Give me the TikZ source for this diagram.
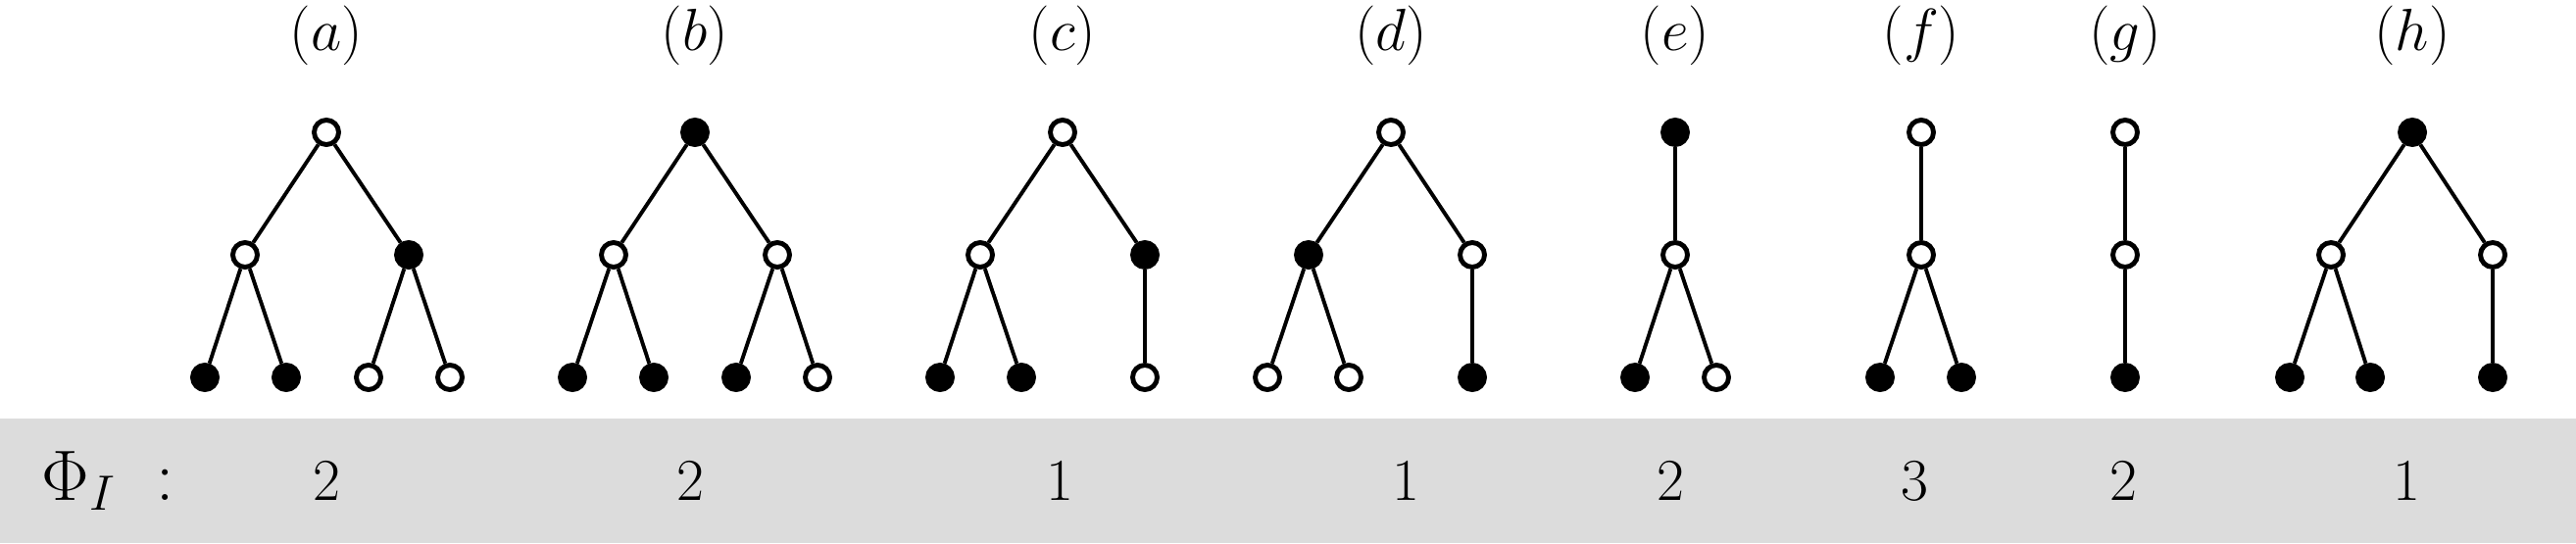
\documentclass[tikz,border=0pt]{standalone}
\definecolor{bandgray}{RGB}{220,220,220}

\begin{document}
\begin{tikzpicture}[font=\fontsize{17.5}{21}\selectfont, wn/.style={circle, draw, line width=1.4pt, fill=white, inner sep=0pt, minimum size=2.5mm}, bn/.style={wn, fill=black}, edge/.style={line width=1.1pt}]
\useasboundingbox (0,0) rectangle (26.28,5.54);
\fill[bandgray] (0,0) rectangle (26.28,1.27);
% (a)
\node[wn] (a0) at (3.33,4.19) {}; \node[wn] (a1) at (2.50,2.94) {}; \node[bn] (a2) at (4.17,2.94) {};
\node[bn] (a3) at (2.09,1.69) {}; \node[bn] (a4) at (2.92,1.69) {}; \node[wn] (a5) at (3.76,1.69) {}; \node[wn] (a6) at (4.59,1.69) {};
\draw[edge] (a0) -- (a1) (a0) -- (a2) (a1) -- (a3) (a1) -- (a4) (a2) -- (a5) (a2) -- (a6);
% (b)
\node[bn] (b0) at (7.09,4.19) {}; \node[wn] (b1) at (6.26,2.94) {}; \node[wn] (b2) at (7.93,2.94) {};
\node[bn] (b3) at (5.84,1.69) {}; \node[bn] (b4) at (6.67,1.69) {}; \node[bn] (b5) at (7.51,1.69) {}; \node[wn] (b6) at (8.34,1.69) {};
\draw[edge] (b0) -- (b1) (b0) -- (b2) (b1) -- (b3) (b1) -- (b4) (b2) -- (b5) (b2) -- (b6);
% (c)
\node[wn] (c0) at (10.84,4.19) {}; \node[wn] (c1) at (10.00,2.94) {}; \node[bn] (c2) at (11.68,2.94) {};
\node[bn] (c3) at (9.59,1.69) {}; \node[bn] (c4) at (10.42,1.69) {}; \node[wn] (c5) at (11.68,1.69) {};
\draw[edge] (c0) -- (c1) (c0) -- (c2) (c1) -- (c3) (c1) -- (c4) (c2) -- (c5);
% (d)
\node[wn] (d0) at (14.19,4.19) {}; \node[bn] (d1) at (13.35,2.94) {}; \node[wn] (d2) at (15.02,2.94) {};
\node[wn] (d3) at (12.93,1.69) {}; \node[wn] (d4) at (13.76,1.69) {}; \node[bn] (d5) at (15.02,1.69) {};
\draw[edge] (d0) -- (d1) (d0) -- (d2) (d1) -- (d3) (d1) -- (d4) (d2) -- (d5);
% (e)
\node[bn] (e0) at (17.09,4.19) {}; \node[wn] (e1) at (17.09,2.94) {};
\node[bn] (e2) at (16.68,1.69) {}; \node[wn] (e3) at (17.51,1.69) {};
\draw[edge] (e0) -- (e1) (e1) -- (e2) (e1) -- (e3);
% (f)
\node[wn] (f0) at (19.60,4.19) {}; \node[wn] (f1) at (19.60,2.94) {};
\node[bn] (f2) at (19.18,1.69) {}; \node[bn] (f3) at (20.01,1.69) {};
\draw[edge] (f0) -- (f1) (f1) -- (f2) (f1) -- (f3);
% (g)
\node[wn] (g0) at (21.68,4.19) {}; \node[wn] (g1) at (21.68,2.94) {}; \node[bn] (g2) at (21.68,1.69) {};
\draw[edge] (g0) -- (g1) (g1) -- (g2);
% (h)
\node[bn] (h0) at (24.61,4.19) {}; \node[wn] (h1) at (23.78,2.94) {}; \node[wn] (h2) at (25.43,2.94) {};
\node[bn] (h3) at (23.36,1.69) {}; \node[bn] (h4) at (24.18,1.69) {}; \node[bn] (h5) at (25.43,1.69) {};
\draw[edge] (h0) -- (h1) (h0) -- (h2) (h1) -- (h3) (h1) -- (h4) (h2) -- (h5);
% labels
\node (la) at (3.33,5.18) {$(a)$}; \node (lb) at (7.09,5.18) {$(b)$}; \node (lc) at (10.84,5.18) {$(c)$}; \node (ld) at (14.19,5.18) {$(d)$};
\node (le) at (17.09,5.18) {$(e)$}; \node (lf) at (19.60,5.18) {$(f)$}; \node (lg) at (21.68,5.18) {$(g)$}; \node (lh) at (24.61,5.18) {$(h)$};
% values of Phi_I
\node[anchor=base west, inner sep=0pt, font=\fontsize{21}{25}\selectfont] (phi) at (0.42,0.44) {$\Phi_I \;:$};
\node[anchor=base] (va) at (3.33,0.44) {$2$}; \node[anchor=base] (vb) at (7.04,0.44) {$2$}; \node[anchor=base] (vc) at (10.81,0.44) {$1$}; \node[anchor=base] (vd) at (14.34,0.44) {$1$};
\node[anchor=base] (ve) at (17.04,0.44) {$2$}; \node[anchor=base] (vf) at (19.53,0.44) {$3$}; \node[anchor=base] (vg) at (21.66,0.44) {$2$}; \node[anchor=base] (vh) at (24.55,0.44) {$1$};
\end{tikzpicture}
\end{document}
